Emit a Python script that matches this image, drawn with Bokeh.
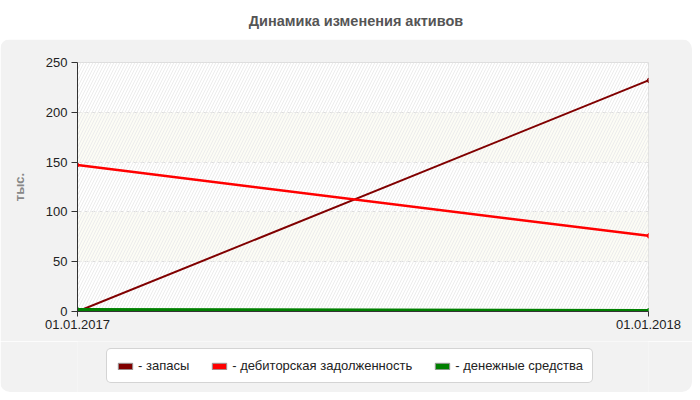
from bokeh.plotting import figure
from bokeh.models import FixedTicker, Legend, LegendItem, BoxAnnotation, Div, Range1d
from bokeh.layouts import column
from bokeh.embed import file_html
from bokeh.resources import INLINE

# ---- data ----
title_text = "Динамика изменения активов"
dates = ["01.01.2017", "01.01.2018"]
zapasy = [0, 232]
debitor = [147, 76]
dengi = [2, 1]
y_ticks = [0, 50, 100, 150, 200, 250]
series_names = ["- запасы", "- дебиторская задолженность", "- денежные средства"]
series_colors = ["#800000", "#ff0000", "#008000"]
y_label = "тыс."

FONT = "Liberation Sans"
PANEL = "#f2f2f2"
NAN = float("nan")
x = list(range(len(dates)))

title = Div(
    text=title_text,
    width=692, height=29,
    styles={"font-family": FONT, "font-size": "14.5px", "font-weight": "bold",
            "color": "#555555", "text-align": "center", "width": "692px",
            "padding-top": "6px", "padding-left": "10px", "box-sizing": "border-box",
            "background": "white"},
)

p = figure(
    frame_width=571, frame_height=249,
    x_range=Range1d(0, len(dates) - 1), y_range=Range1d(y_ticks[0], y_ticks[-1]),
    output_backend="svg", toolbar_location=None,
    min_border_left=77, min_border_right=44, min_border_top=23, min_border_bottom=30,
    styles={"border-top-left-radius": "10px", "border-top-right-radius": "10px",
            "overflow": "hidden"},
)
p.border_fill_color = PANEL
p.background_fill_color = "white"
p.outline_line_color = "#dddddd"

# hatched frame background
hatch = BoxAnnotation(fill_alpha=0, line_alpha=0, hatch_pattern="/",
                      hatch_color="#ececec", hatch_scale=6, hatch_weight=1,
                      level="underlay")
p.add_layout(hatch)

# axes
p.xaxis.ticker = FixedTicker(ticks=x)
p.xaxis.major_label_overrides = {i: d for i, d in zip(x, dates)}
p.yaxis.ticker = FixedTicker(ticks=y_ticks)
for ax in (p.xaxis[0], p.yaxis[0]):
    ax.axis_line_color = "#333333"
    ax.major_tick_line_color = "#333333"
    ax.major_tick_in = 0
    ax.major_tick_out = 6
    ax.minor_tick_line_color = None
    ax.major_label_text_font = FONT
    ax.major_label_text_font_size = "13px"
    ax.major_label_text_color = "#222222"
p.xaxis.major_tick_out = 5
p.xaxis.major_label_standoff = 3
p.yaxis.major_label_standoff = 4
p.yaxis.axis_label = y_label
p.yaxis.axis_label_text_font = FONT
p.yaxis.axis_label_text_font_size = "13px"
p.yaxis.axis_label_text_font_style = "bold"
p.yaxis.axis_label_text_color = "#888888"
p.yaxis.axis_label_standoff = 16

p.xgrid.visible = False
p.ygrid.grid_line_color = "#dddddd"
p.ygrid.grid_line_dash = "4 3"
p.ygrid.band_fill_color = "#fbfbf2"
p.ygrid.band_fill_alpha = 0.8

# lines
values = [zapasy, debitor, dengi]
widths = [2, 2.5, 3]
for vals, col, w in zip(values, series_colors, widths):
    p.line(x, vals, line_color=col, line_width=w)
    p.scatter(x, vals, marker="diamond", size=5, color=col)

# legend as its own strip below the chart
lg = figure(
    width=692, height=51, x_range=Range1d(0, 1), y_range=Range1d(0, 1),
    output_backend="svg", toolbar_location=None,
    x_axis_location=None, y_axis_location=None,
    min_border=0, min_border_left=0, min_border_right=0, min_border_top=0, min_border_bottom=0,
    styles={"border-bottom-left-radius": "10px", "border-bottom-right-radius": "10px",
            "overflow": "hidden"},
)
lg.background_fill_color = PANEL
lg.border_fill_color = PANEL
lg.outline_line_color = None
lg.xgrid.visible = False
lg.ygrid.visible = False

items = []
for name, col in zip(series_names, series_colors):
    r = lg.quad(left=[NAN], right=[NAN], top=[NAN], bottom=[NAN],
                fill_color=col, line_color="#999999")
    items.append(LegendItem(label=name, renderers=[r]))

legend = Legend(items=items, orientation="horizontal", location=(29, 9),
                label_text_font=FONT, label_text_font_size="13px",
                label_text_color="#222222", glyph_width=18, glyph_height=8,
                label_standoff=4, spacing=21, padding=9, margin=0,
                border_line_color="#aaaaaa", background_fill_color="white",
                background_fill_alpha=1)
if "border_radius" in Legend.properties():
    legend.border_radius = 5
lg.add_layout(legend)

layout = column(title, p, lg, spacing=0)
open("out.html", "w").write(file_html(layout, INLINE))
